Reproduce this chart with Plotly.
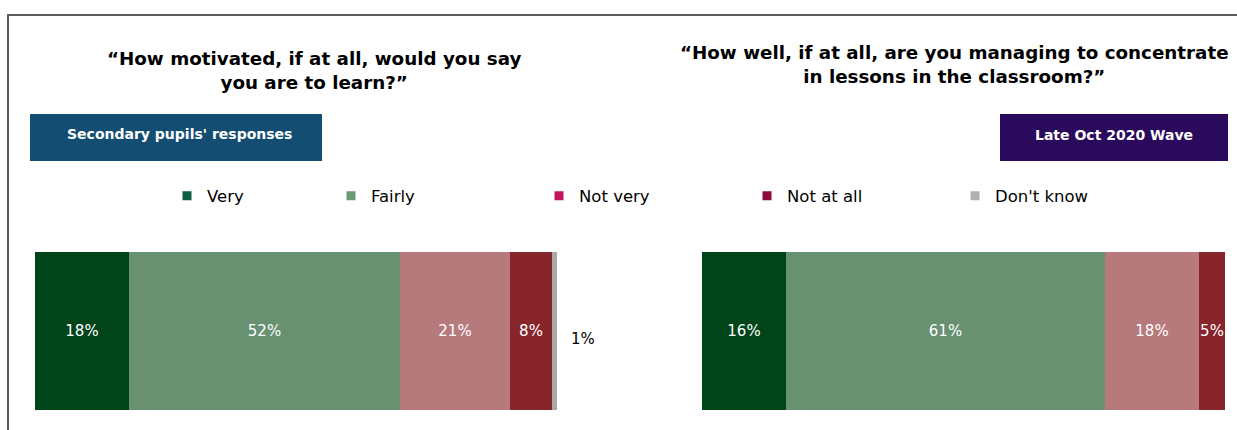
import plotly.graph_objects as go

W, H = 1237, 430

categories = ["Very", "Fairly", "Not very", "Not at all", "Don't know"]
motivated = [18, 52, 21, 8, 1]
concentrate = [16, 61, 18, 5, 0]
bar_colors = ["#00451a", "#679171", "#b77a7c", "#88252b", "#a8a8a8"]
legend_colors = ["#0f5e45", "#6b9a78", "#c0145c", "#8c0b3c", "#b0b0b0"]
title_left = "“How motivated, if at all, would you say<br>you are to learn?”"
title_right = "“How well, if at all, are you managing to concentrate<br>in lessons in the classroom?”"
box_left = "Secondary pupils' responses"
box_right = "Late Oct 2020 Wave"

FONT = "DejaVu Sans, Liberation Sans, Arial, sans-serif"

def px_x(p):
    return p / W

def px_y(p):
    return 1 - p / H

fig = go.Figure()

for vals, xa, ya in [(motivated, "x", "y"), (concentrate, "x2", "y2")]:
    for i, cat in enumerate(categories):
        v = vals[i]
        inside = i < 4 and v > 0
        fig.add_trace(go.Bar(
            x=[v], y=["r"], orientation="h", xaxis=xa, yaxis=ya,
            name=cat, showlegend=False,
            marker=dict(color=bar_colors[i], line=dict(width=0)),
            text=[f"{v}%" if inside else ""],
            textposition="inside", insidetextanchor="middle", textangle=0,
            textfont=dict(color="white", size=15, family=FONT),
            hoverinfo="skip",
        ))

# outside label for the small "Don't know" segment
if motivated[4] > 0:
    fig.add_annotation(x=sum(motivated), y="r", xref="x", yref="y",
                       text=f"{motivated[4]}%", showarrow=False,
                       xanchor="left", xshift=12, yshift=-8,
                       font=dict(size=15, color="black", family=FONT))

# legend entries (legend colours differ from bar shades in the original)
for i, cat in enumerate(categories):
    fig.add_trace(go.Scatter(
        x=[None], y=[None], xaxis="x", yaxis="y", mode="markers",
        name=cat, showlegend=True,
        legend="legend" if i == 0 else "legend2",
        marker=dict(symbol="square", size=9, color=legend_colors[i]),
    ))

fig.update_layout(
    width=W, height=H,
    margin=dict(l=0, r=0, t=0, b=0),
    paper_bgcolor="white", plot_bgcolor="white",
    barmode="stack", bargap=0,
    font=dict(family=FONT, color="black"),
    uniformtext=dict(minsize=15, mode="show"),
    xaxis=dict(domain=[px_x(35), px_x(557)], range=[0, 100], visible=False, fixedrange=True),
    yaxis=dict(domain=[px_y(410), px_y(252)], range=[-0.5, 0.5], visible=False),
    xaxis2=dict(domain=[px_x(702), px_x(1225)], range=[0, 100], visible=False, anchor="y2"),
    yaxis2=dict(domain=[px_y(410), px_y(252)], range=[-0.5, 0.5], visible=False, anchor="x2"),
    legend=dict(orientation="h", x=px_x(167), xanchor="left", y=px_y(196), yanchor="middle",
                font=dict(size=16.5, family=FONT), bgcolor="rgba(0,0,0,0)"),
    legend2=dict(orientation="h", x=px_x(331), xanchor="left", y=px_y(196), yanchor="middle",
                 font=dict(size=16.5, family=FONT), bgcolor="rgba(0,0,0,0)",
                 entrywidth=163, entrywidthmode="pixels"),
    showlegend=True,
)

# frame lines
fig.add_shape(type="line", xref="paper", yref="paper",
              x0=px_x(7), x1=1, y0=px_y(15), y1=px_y(15),
              line=dict(color="#5a5a5a", width=2))
fig.add_shape(type="line", xref="paper", yref="paper",
              x0=px_x(8), x1=px_x(8), y0=0, y1=px_y(15),
              line=dict(color="#5a5a5a", width=2))

# header boxes
fig.add_shape(type="rect", xref="paper", yref="paper",
              x0=px_x(30), x1=px_x(322), y0=px_y(161), y1=px_y(114),
              fillcolor="#134e72", line=dict(width=0))
fig.add_shape(type="rect", xref="paper", yref="paper",
              x0=px_x(1000), x1=px_x(1228), y0=px_y(161), y1=px_y(114),
              fillcolor="#2a0a5c", line=dict(width=0))

fig.add_annotation(x=px_x(179), y=px_y(134), xref="paper", yref="paper",
                   xanchor="center", yanchor="middle",
                   text=f"<b>{box_left}</b>", showarrow=False,
                   font=dict(size=14, color="white", family=FONT))
fig.add_annotation(x=px_x(1114), y=px_y(135), xref="paper", yref="paper",
                   xanchor="center", yanchor="middle",
                   text=f"<b>{box_right}</b>", showarrow=False,
                   font=dict(size=14, color="white", family=FONT))

# titles
fig.add_annotation(x=px_x(314), y=px_y(70), xref="paper", yref="paper",
                   xanchor="center", yanchor="middle",
                   text=f"<b>{title_left}</b>", showarrow=False,
                   font=dict(size=18.3, color="black", family=FONT))
fig.add_annotation(x=px_x(955), y=px_y(64), xref="paper", yref="paper",
                   xanchor="center", yanchor="middle",
                   text=f"<b>{title_right}</b>", showarrow=False,
                   font=dict(size=18.3, color="black", family=FONT))

fig.write_html("out.html", config={"displayModeBar": False},
               post_script="document.body.style.margin='0';")
